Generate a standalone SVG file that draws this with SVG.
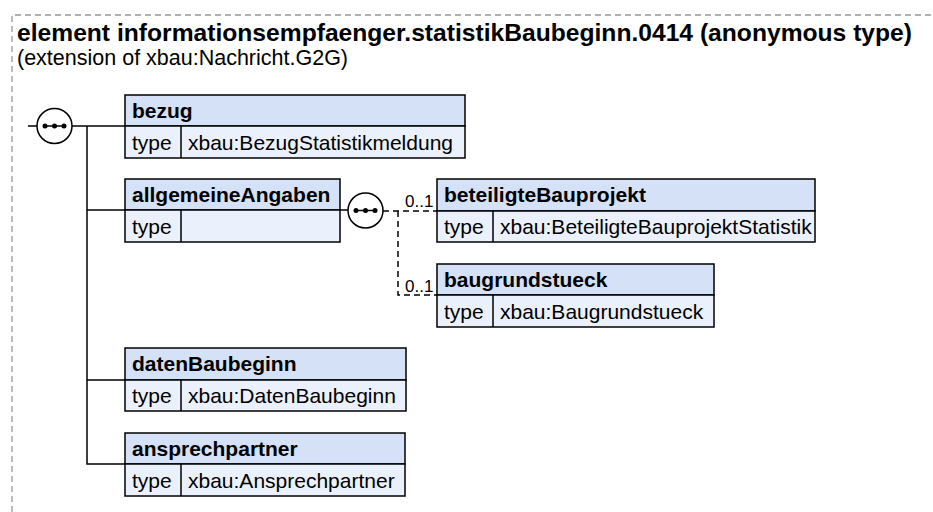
<svg xmlns="http://www.w3.org/2000/svg" width="933" height="512" viewBox="0 0 933 512">
<style>
.hdr{fill:#d5e1f7;stroke:#000;stroke-width:1.5}
.row{fill:#ebf1fc;stroke:#000;stroke-width:1.5}
.ln{stroke:#000;stroke-width:1.5;fill:none}
.dash{stroke:#000;stroke-width:1.5;fill:none;stroke-dasharray:6 4}
.bt{font-family:"Liberation Sans",Arial,sans-serif;font-size:21px;font-weight:bold;fill:#000}
.t{font-family:"Liberation Sans",Arial,sans-serif;font-size:21px;fill:#000}
.card{font-family:"Liberation Sans",Arial,sans-serif;font-size:17px;fill:#000}
</style>
<rect width="933" height="512" fill="#fff"/>
<path d="M12 512 V15 H933" fill="none" stroke="#999" stroke-width="1.3" stroke-dasharray="6 4"/>
<text x="17" y="41" textLength="895" lengthAdjust="spacingAndGlyphs" style="font-family:'Liberation Sans',Arial,sans-serif;font-size:24.5px;font-weight:bold">element informationsempfaenger.statistikBaubeginn.0414 (anonymous type)</text>
<text x="17" y="65" style="font-family:'Liberation Sans',Arial,sans-serif;font-size:21.5px">(extension of xbau:Nachricht.G2G)</text>
<g id="connectors">
<path class="ln" d="M28 126 H37 M72 126 H125 M87 126 V464 H125 M87 210 H125 M87 380 H125"/>
<path class="ln" d="M340 210 H348"/>
<path class="dash" d="M383 211 H437 M398 211 V295 H437"/>
<text class="card" x="405" y="207">0..1</text>
<text class="card" x="405" y="292">0..1</text>
</g>
<g id="seq1">
<circle cx="54.5" cy="126" r="17.5" fill="#fff" stroke="#000" stroke-width="1.5"/>
<path class="ln" d="M44 126 H65"/>
<circle cx="45" cy="126" r="2.5"/><circle cx="54.5" cy="126" r="2.5"/><circle cx="64" cy="126" r="2.5"/>
</g>
<g id="seq2">
<circle cx="365.5" cy="210.5" r="17.5" fill="#fff" stroke="#000" stroke-width="1.5"/>
<path class="ln" d="M355 210.5 H376"/>
<circle cx="356" cy="210.5" r="2.5"/><circle cx="365.5" cy="210.5" r="2.5"/><circle cx="375" cy="210.5" r="2.5"/>
</g>
<g id="bezug">
<rect class="hdr" x="125" y="95" width="340" height="31"/>
<rect class="row" x="125" y="126" width="340" height="32"/>
<path class="ln" d="M181 126 V158"/>
<text class="bt" x="132" y="118">bezug</text>
<text class="t" x="132" y="150">type</text>
<text class="t" x="188" y="150">xbau:BezugStatistikmeldung</text>
</g>
<g id="allgemeineAngaben">
<rect class="hdr" x="125" y="179" width="215" height="31"/>
<rect class="row" x="125" y="210" width="215" height="32"/>
<path class="ln" d="M181 210 V242"/>
<text class="bt" x="132" y="202">allgemeineAngaben</text>
<text class="t" x="132" y="234">type</text>
</g>
<g id="beteiligteBauprojekt">
<rect class="hdr" x="437" y="179" width="378" height="32"/>
<rect class="row" x="437" y="211" width="378" height="31"/>
<path class="ln" d="M493 211 V242"/>
<text class="bt" x="444" y="202">beteiligteBauprojekt</text>
<text class="t" x="444" y="234">type</text>
<text class="t" x="500" y="234">xbau:BeteiligteBauprojektStatistik</text>
</g>
<g id="baugrundstueck">
<rect class="hdr" x="437" y="264" width="277" height="31"/>
<rect class="row" x="437" y="295" width="277" height="32"/>
<path class="ln" d="M493 295 V327"/>
<text class="bt" x="444" y="287">baugrundstueck</text>
<text class="t" x="444" y="319">type</text>
<text class="t" x="500" y="319">xbau:Baugrundstueck</text>
</g>
<g id="datenBaubeginn">
<rect class="hdr" x="125" y="348" width="281" height="32"/>
<rect class="row" x="125" y="380" width="281" height="31"/>
<path class="ln" d="M181 380 V411"/>
<text class="bt" x="132" y="371">datenBaubeginn</text>
<text class="t" x="132" y="403">type</text>
<text class="t" x="188" y="403">xbau:DatenBaubeginn</text>
</g>
<g id="ansprechpartner">
<rect class="hdr" x="125" y="433" width="280" height="31"/>
<rect class="row" x="125" y="464" width="280" height="32"/>
<path class="ln" d="M181 464 V496"/>
<text class="bt" x="132" y="456">ansprechpartner</text>
<text class="t" x="132" y="488">type</text>
<text class="t" x="188" y="488">xbau:Ansprechpartner</text>
</g>
</svg>
